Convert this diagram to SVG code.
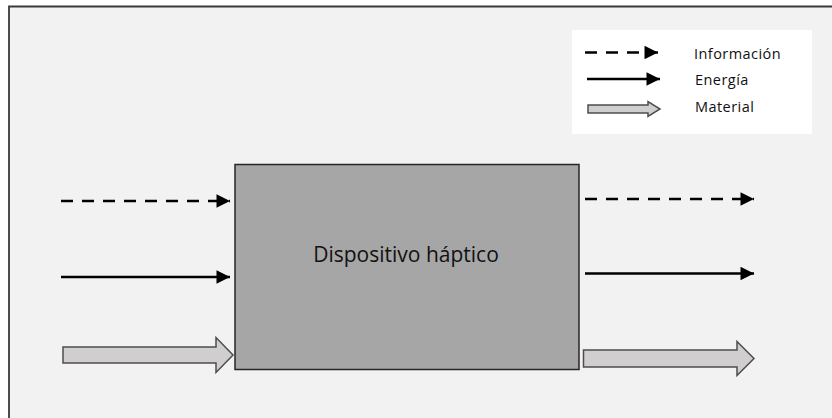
<svg xmlns="http://www.w3.org/2000/svg" width="832" height="418" viewBox="0 0 832 418">
<defs>
<style>
.lbl{font-family:"Open Sans","Liberation Sans",sans-serif;fill:#111}
.leg{font-size:14.5px;letter-spacing:0.45px}
.dash{stroke:#000;stroke-width:2.6;stroke-dasharray:12 9;fill:none}
.solid{stroke:#000;stroke-width:2.6;fill:none}
.mat{fill:#d0cece;stroke:#4d4d4d;stroke-width:1.5}
</style>
<marker id="ah" viewBox="0 0 10 10" refX="10" refY="5" markerWidth="5.2" markerHeight="5.2" markerUnits="strokeWidth" orient="auto">
<path d="M0,0 L10,5 L0,10 z" fill="#000"/>
</marker>
</defs>
<rect x="0" y="0" width="832" height="418" fill="#ffffff"/>
<rect x="9" y="6.5" width="830" height="420" fill="#f2f2f2"/>
<path d="M9,418 V6.5 H832" fill="none" stroke="#3a3a3a" stroke-width="1.8"/>
<g id="legend">
<rect x="572" y="30" width="240" height="104" fill="#ffffff"/>
<line x1="585" y1="52.5" x2="658" y2="52.5" class="dash" stroke-dasharray="8 5" marker-end="url(#ah)"/>
<line x1="587" y1="79" x2="660" y2="79" class="solid" marker-end="url(#ah)"/>
<path class="mat" d="M588,105 H648 V101.5 L660,109 L648,116.5 V113 H588 Z"/>
<text class="lbl leg" x="694" y="59">Información</text>
<text class="lbl leg" x="695" y="85">Energía</text>
<text class="lbl leg" x="695" y="112">Material</text>
</g>
<g id="device">
<rect x="235" y="164.5" width="344" height="205" fill="#a6a6a6" stroke="#262626" stroke-width="1.5"/>
<text class="lbl" x="406" y="261.5" font-size="21" text-anchor="middle">Dispositivo háptico</text>
</g>
<g id="connectors">
<line x1="61" y1="201" x2="230" y2="201" class="dash" marker-end="url(#ah)"/>
<line x1="61" y1="277" x2="230" y2="277" class="solid" marker-end="url(#ah)"/>
<path class="mat" d="M63,347 H216 V337.5 L233,355 L216,372.5 V363 H63 Z"/>
<line x1="585" y1="199" x2="754" y2="199" class="dash" marker-end="url(#ah)"/>
<line x1="585" y1="273.5" x2="754" y2="273.5" class="solid" marker-end="url(#ah)"/>
<path class="mat" d="M583.5,350 H737 V341.5 L754,358.5 L737,375.5 V367 H583.5 Z"/>
</g>
</svg>
